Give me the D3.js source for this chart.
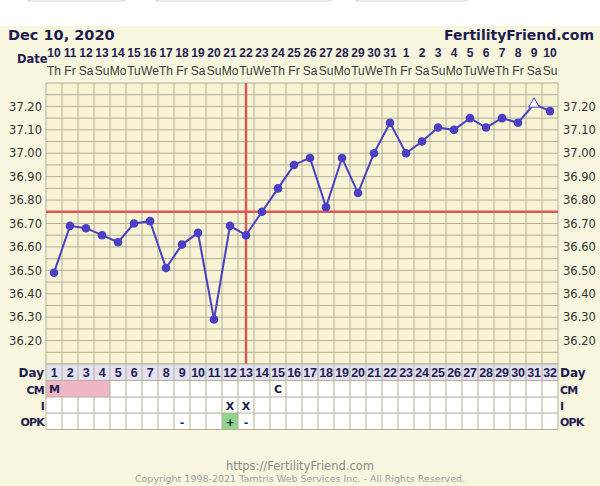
<!DOCTYPE html>
<html><head><meta charset="utf-8">
<script src="https://cdn.jsdelivr.net/npm/d3@7"></script>
<style>html,body{margin:0;padding:0;background:#fff;}svg{display:block;}</style>
</head><body>
<script>
const cycleDays = d3.range(1, 33);
const dates = ["10","11","12","13","14","15","16","17","18","19","20","21","22","23","24","25","26","27","28","29","30","31","1","2","3","4","5","6","7","8","9","10"];
const weekdays = ["Th","Fr","Sa","Su","Mo","Tu","We","Th","Fr","Sa","Su","Mo","Tu","We","Th","Fr","Sa","Su","Mo","Tu","We","Th","Fr","Sa","Su","Mo","Tu","We","Th","Fr","Sa","Su"];
const temps = [36.49,36.69,36.68,36.65,36.62,36.70,36.71,36.51,36.61,36.66,36.29,36.69,36.65,36.75,36.85,36.95,36.98,36.77,36.98,36.83,37.00,37.13,37.00,37.05,37.11,37.10,37.15,37.11,37.15,37.13,37.21,37.18];
const openMarkerDays = [31];
const tempTicks = [36.20,36.30,36.40,36.50,36.60,36.70,36.80,36.90,37.00,37.10,37.20];
const coverline = 36.75;
const ovulationDay = 13;
const cmRow = ["M","M","M","M","","","","","","","","","","","C","","","","","","","","","","","","","","","","",""];
const iRow = ["","","","","","","","","","","","X","X","","","","","","","","","","","","","","","","","","",""];
const opkRow = ["","","","","","","","","-","","","+","-","","","","","","","","","","","","","","","","","","",""];

const W = 600, H = 486;
const svg = d3.select("body").append("svg").attr("width", W).attr("height", H);
const navy = "#1e1b4f";
const font = "'DejaVu Sans', Verdana, sans-serif";
const fontN = "'Liberation Sans', Arial, sans-serif";

// backgrounds
svg.append("rect").attr("x",0).attr("y",0).attr("width",W).attr("height",H).attr("fill","#fff");
svg.append("rect").attr("x",0).attr("y",26).attr("width",W).attr("height",H-26).attr("fill","#f8f6de");
// top tab remnants
[[27,126],[155,332],[355,468]].forEach(([a,b])=>{
  svg.append("rect").attr("x",a).attr("y",-4).attr("width",b-a).attr("height",5).attr("rx",3).attr("fill","#fff").attr("stroke","#d4d4d4");
});

const x = d3.scaleLinear().domain([0.5, 32.5]).range([46, 558]);
const y = d3.scaleLinear().domain([36.10, 37.30]).range([364, 83]);
const gridTop = y(37.30), gridBot = y(36.10);

// plot background
svg.append("rect").attr("x",x(0.5)).attr("y",gridTop).attr("width",x(32.5)-x(0.5)).attr("height",gridBot-gridTop).attr("fill","#f7f3d4");

// grid
const gridColor = "#b3af9a";
const hLines = d3.range(0, 25).map(i => 36.10 + i*0.05);
svg.append("g").selectAll("line").data(hLines).join("line")
  .attr("x1", x(0.5)).attr("x2", x(32.5))
  .attr("y1", d=>y(d)).attr("y2", d=>y(d))
  .attr("stroke", gridColor).attr("stroke-width",1);
const vLines = d3.range(0, 33).map(i => 0.5 + i);
svg.append("g").selectAll("line").data(vLines).join("line")
  .attr("x1", d=>x(d)).attr("x2", d=>x(d))
  .attr("y1", gridTop).attr("y2", gridBot)
  .attr("stroke", gridColor).attr("stroke-width",1);

// axes labels
const leftAxis = d3.axisLeft(y).tickValues(tempTicks).tickFormat(d3.format(".2f")).tickSize(0).tickPadding(4);
const gl = svg.append("g").attr("transform",`translate(${x(0.5)},0)`).call(leftAxis);
gl.select(".domain").remove();
gl.selectAll("text").attr("font-family",font).attr("font-size",11.5).attr("fill","#333");
const rightAxis = d3.axisRight(y).tickValues(tempTicks).tickFormat(d3.format(".2f")).tickSize(0).tickPadding(5);
const gr = svg.append("g").attr("transform",`translate(${x(32.5)},0)`).call(rightAxis);
gr.select(".domain").remove();
gr.selectAll("text").attr("font-family",font).attr("font-size",11.5).attr("fill","#333");

// header
svg.append("text").attr("x",8).attr("y",40).attr("font-family",font).attr("font-weight","bold").attr("font-size",14.5).attr("fill",navy).text("Dec 10, 2020");
svg.append("text").attr("x",594).attr("y",40).attr("text-anchor","end").attr("font-family",font).attr("font-weight","bold").attr("font-size",14).attr("fill",navy).text("FertilityFriend.com");
svg.append("text").attr("x",17).attr("y",63).attr("font-family",font).attr("font-weight","bold").attr("font-size",11.5).attr("fill",navy).text("Date");
svg.append("g").selectAll("text").data(cycleDays).join("text")
  .attr("x", d=>x(d)).attr("y",57).attr("text-anchor","middle")
  .attr("font-family",fontN).attr("font-weight","bold").attr("font-size",12).attr("fill",navy)
  .text((d,i)=>dates[i]);
svg.append("g").selectAll("text").data(cycleDays).join("text")
  .attr("x", d=>x(d)).attr("y",75).attr("text-anchor","middle")
  .attr("font-family",fontN).attr("font-size",12).attr("fill","#3a3a3a")
  .text((d,i)=>weekdays[i]);

// coverline and ovulation line
const red = "#d9595a";
svg.append("line").attr("x1",x(0.5)).attr("x2",x(32.5)).attr("y1",y(coverline)).attr("y2",y(coverline)).attr("stroke",red).attr("stroke-width",2.5);
svg.append("line").attr("x1",x(ovulationDay)).attr("x2",x(ovulationDay)).attr("y1",gridTop).attr("y2",gridBot).attr("stroke",red).attr("stroke-width",2.5);

// temperature line
const purple = "#4b3fc4";
const line = d3.line().x((d,i)=>x(cycleDays[i])).y(d=>y(d));
svg.append("path").datum(temps).attr("d",line).attr("fill","none").attr("stroke",purple).attr("stroke-width",2);
svg.append("g").selectAll("circle").data(temps.map((t,i)=>({d:cycleDays[i],t})).filter(p=>!openMarkerDays.includes(p.d))).join("circle")
  .attr("cx",p=>x(p.d)).attr("cy",p=>y(p.t)).attr("r",4.3).attr("fill",purple);
svg.append("g").selectAll("path").data(temps.map((t,i)=>({d:cycleDays[i],t})).filter(p=>openMarkerDays.includes(p.d))).join("path")
  .attr("d", d3.symbol(d3.symbolTriangle, 50)())
  .attr("transform",p=>`translate(${x(p.d)},${y(p.t)})`)
  .attr("fill","#fff").attr("stroke",purple).attr("stroke-width",1);

// table
const rowTop = [364, 380.5, 397, 413];
const rowH = 16.5;
const tbl = svg.append("g");
tbl.append("rect").attr("x",x(0.5)).attr("y",rowTop[0]).attr("width",x(32.5)-x(0.5)).attr("height",rowH).attr("fill","#e3e2f0");
tbl.append("rect").attr("x",x(0.5)).attr("y",rowTop[1]).attr("width",x(32.5)-x(0.5)).attr("height",rowH*3).attr("fill","#fff");
tbl.selectAll("rect.cm").data(cycleDays.filter((d,i)=>cmRow[i]==="M")).join("rect").attr("class","cm")
  .attr("x",d=>x(d-0.5)).attr("y",rowTop[1]).attr("width",x(1.5)-x(0.5)).attr("height",rowH).attr("fill","#efb6c6");
tbl.selectAll("rect.opk").data(cycleDays.filter((d,i)=>opkRow[i]==="+")).join("rect").attr("class","opk")
  .attr("x",d=>x(d-0.5)).attr("y",rowTop[3]).attr("width",x(1.5)-x(0.5)).attr("height",rowH).attr("fill","#8fd68a");
const tBottom = rowTop[3]+rowH;
// vertical lines (no inner lines between consecutive M cells)
tbl.selectAll("line.v").data(vLines.filter(v=>!(cmRow[Math.floor(v)-1]==="M" && cmRow[Math.ceil(v)-1]==="M"))).join("line").attr("class","v")
  .attr("x1",d=>x(d)).attr("x2",d=>x(d)).attr("y1",rowTop[1]).attr("y2",rowTop[2]).attr("stroke",gridColor);
tbl.selectAll("line.v2").data(vLines).join("line").attr("class","v2")
  .attr("x1",d=>x(d)).attr("x2",d=>x(d)).attr("y1",rowTop[0]).attr("y2",rowTop[1]).attr("stroke",gridColor);
tbl.selectAll("line.v3").data(vLines).join("line").attr("class","v3")
  .attr("x1",d=>x(d)).attr("x2",d=>x(d)).attr("y1",rowTop[2]).attr("y2",tBottom).attr("stroke",gridColor);
tbl.selectAll("line.h").data([...rowTop, tBottom]).join("line").attr("class","h")
  .attr("x1",x(0.5)).attr("x2",x(32.5)).attr("y1",d=>d).attr("y2",d=>d).attr("stroke",gridColor);
tbl.selectAll("text.day").data(cycleDays).join("text").attr("class","day")
  .attr("x",d=>x(d)).attr("y",rowTop[0]+13).attr("text-anchor","middle")
  .attr("font-family",fontN).attr("font-weight","bold").attr("font-size",12.5).attr("fill",navy)
  .attr("letter-spacing",-0.3)
  .text(d=>d);
// row contents (label shown at the first day of a run)
[[cmRow,1],[iRow,2],[opkRow,3]].forEach(([arr,r])=>{
  const shown = cycleDays.filter((d,i)=>arr[i]!=="" && !(r===1 && i>0 && arr[i-1]===arr[i]));
  tbl.append("g").selectAll("text").data(shown).join("text")
    .attr("x",d=>arr[d-1]==="M" ? x(d)-5 : x(d)).attr("y",rowTop[r]+12.5)
    .attr("text-anchor",d=>arr[d-1]==="M" ? "start" : "middle")
    .attr("font-family",font).attr("font-weight","bold").attr("font-size",11).attr("fill",navy)
    .text(d=>arr[d-1]);
});
const rowLabels = ["Day","CM","I","OPK"];
rowLabels.forEach((lab,i)=>{
  tbl.append("text").attr("x",44).attr("y",rowTop[i]+13).attr("text-anchor","end")
    .attr("font-family",font).attr("font-weight","bold").attr("font-size",i===0?12:11).attr("fill",navy).attr("letter-spacing",i===0?0:-0.8).text(lab);
  tbl.append("text").attr("x",560).attr("y",rowTop[i]+13).attr("text-anchor","start")
    .attr("font-family",font).attr("font-weight","bold").attr("font-size",i===0?12:11).attr("fill",navy).attr("letter-spacing",i===0?0:-0.8).text(lab);
});

// footer
svg.append("text").attr("x",300).attr("y",470).attr("text-anchor","middle").attr("font-family",font).attr("font-size",11.5).attr("fill","#8a8a8a").text("https://FertilityFriend.com");
svg.append("text").attr("x",300).attr("y",482).attr("text-anchor","middle").attr("font-family",font).attr("font-size",9.5).attr("fill","#a0a0a0").text("Copyright 1998-2021 Tamtris Web Services Inc. - All Rights Reserved.");
</script>
</body></html>
